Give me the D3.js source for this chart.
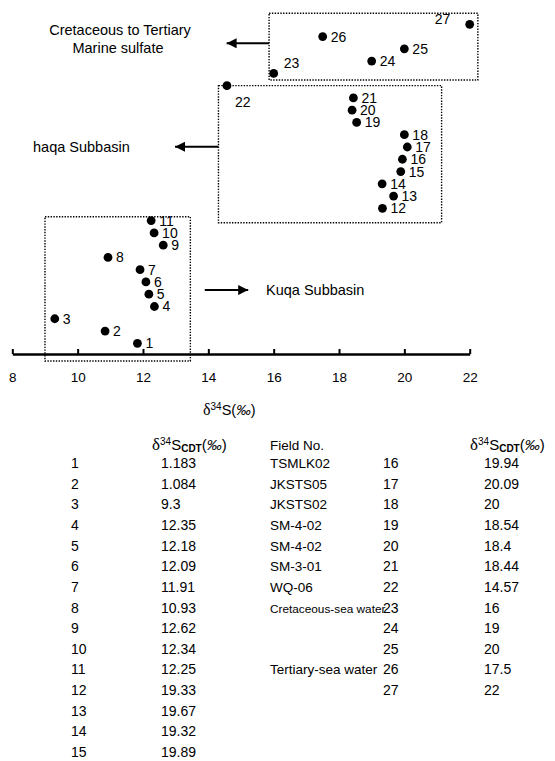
<!DOCTYPE html>
<html lang="en">
<head>
  <meta charset="UTF-8" />
  <title>d34S of sulfates</title>
  <script src="https://d3js.org/d3.v7.min.js"></script>
  <style>
    body { margin: 0; background: #fff; }
    svg { display: block; font-family: "Liberation Sans", Arial, sans-serif; }
    .delta { font-family: "Liberation Serif", "DejaVu Serif", serif; }
  </style>
</head>
<body>
  <div id="chart"></div>

  <script>
    // sample numbers and their d34S (CDT, permil) values
    const sampleNo = [1, 2, 3, 4, 5, 6, 7, 8, 9, 10, 11, 12, 13, 14, 15, 16, 17, 18, 19, 20, 21, 22, 23, 24, 25, 26, 27];
    const d34S = [11.83, 10.84, 9.3, 12.35, 12.18, 12.09, 11.91, 10.93, 12.62, 12.34, 12.25,
                  19.33, 19.67, 19.32, 19.89, 19.94, 20.09, 20, 18.54, 18.4, 18.44, 14.57,
                  16, 19, 20, 17.5, 22];
    // values as printed in the table
    const tableValues = ["1.183", "1.084", "9.3", "12.35", "12.18", "12.09", "11.91", "10.93", "12.62", "12.34", "12.25",
                         "19.33", "19.67", "19.32", "19.89", "19.94", "20.09", "20", "18.54", "18.4", "18.44", "14.57",
                         "16", "19", "20", "17.5", "22"];
    // field numbers for samples 16-27
    const fieldNo = ["TSMLK02", "JKSTS05", "JKSTS02", "SM-4-02", "SM-4-02", "SM-3-01", "WQ-06",
                     "Cretaceous-sea water", "", "", "Tertiary-sea water", ""];
    const xTicks = [8, 10, 12, 14, 16, 18, 20, 22];

    const width = 555, height = 761;

    const x = d3.scaleLinear().domain([8, 22]).range([12.3, 469.7]);
    const y = d3.scaleLinear().domain([1, 27]).range([343.3, 24.3]);

    const svg = d3.select("#chart").append("svg")
      .attr("width", width)
      .attr("height", height);

    // dotted group boxes (x in permil, y in sample index)
    const boxes = [
      { x0: 9, x1: 13.45, i0: -0.44, i1: 11.32 },
      { x0: 14.31, x1: 21.14, i0: 10.83, i1: 22 },
      { x0: 15.86, x1: 22.25, i0: 22.46, i1: 27.9 }
    ];
    svg.selectAll("rect.box")
      .data(boxes)
      .join("rect")
      .attr("class", "box")
      .attr("x", d => x(d.x0))
      .attr("y", d => y(d.i1))
      .attr("width", d => x(d.x1) - x(d.x0))
      .attr("height", d => y(d.i0) - y(d.i1))
      .attr("fill", "none")
      .attr("stroke", "#000")
      .attr("stroke-width", 1.4)
      .attr("stroke-dasharray", "1.4,1.4");

    // x axis: thick line, ticks pointing up
    const axisY = 354;
    const axis = svg.append("g").attr("transform", `translate(0,${axisY})`)
      .call(d3.axisBottom(x).tickValues(xTicks).tickSizeInner(-5).tickSizeOuter(0).tickPadding(0));
    axis.select(".domain").attr("stroke-width", 2.4).attr("stroke", "#000");
    axis.selectAll(".tick line").attr("stroke-width", 2).attr("stroke", "#000");
    axis.selectAll(".tick text")
      .attr("y", 28)
      .attr("dy", 0)
      .attr("fill", "#000")
      .style("font-size", "13.5px")
      .style("font-family", "'Liberation Sans', Arial, sans-serif");

    // axis title
    const title = svg.append("text").attr("x", 203).attr("y", 415)
      .style("font-size", "14.5px");
    title.append("tspan").attr("class", "delta").style("font-size", "16px").text("\u03B4");
    title.append("tspan").attr("dy", -5).style("font-size", "10px").text("34");
    title.append("tspan").attr("dy", 5).text("S(");
    title.append("tspan").style("font-style", "italic").text("\u2030");
    title.append("tspan").text(")");

    // points
    const pts = sampleNo.map((n, i) => ({ n, v: d34S[i] }));
    svg.selectAll("circle.pt")
      .data(pts)
      .join("circle")
      .attr("class", "pt")
      .attr("cx", d => x(d.v))
      .attr("cy", d => y(d.n))
      .attr("r", 4.4)
      .attr("fill", "#000");

    // point labels, a few sit off to one side
    const labelOffset = { 22: [8, 16], 23: [10, -10], 27: [-35, -5] };
    svg.selectAll("text.lab")
      .data(pts)
      .join("text")
      .attr("class", "lab")
      .attr("x", d => x(d.v) + (labelOffset[d.n] ? labelOffset[d.n][0] : 8))
      .attr("y", d => y(d.n) + (labelOffset[d.n] ? labelOffset[d.n][1] : 0) + 5)
      .style("font-size", "14px")
      .text(d => d.n);

    // group annotations with arrows
    const defs = svg.append("defs");
    defs.append("marker")
      .attr("id", "head")
      .attr("viewBox", "0 0 10 10")
      .attr("refX", 10).attr("refY", 5)
      .attr("markerWidth", 15).attr("markerHeight", 10)
      .attr("markerUnits", "userSpaceOnUse")
      .attr("orient", "auto")
      .append("path").attr("d", "M0,0L10,5L0,10z").attr("fill", "#000");

    const arrows = [
      { from: 15.86, to: 14.56, i: 25.45 },
      { from: 14.31, to: 12.98, i: 17.02 },
      { from: 13.89, to: 15.22, i: 5.34 }
    ];
    svg.selectAll("line.arrow")
      .data(arrows)
      .join("line")
      .attr("class", "arrow")
      .attr("x1", d => x(d.from))
      .attr("x2", d => x(d.to))
      .attr("y1", d => y(d.i))
      .attr("y2", d => y(d.i))
      .attr("stroke", "#000")
      .attr("stroke-width", 2)
      .attr("marker-end", "url(#head)");

    const afs = "14.5px";
    svg.append("text").attr("x", 120).attr("y", 35).attr("text-anchor", "middle")
      .style("font-size", afs).text("Cretaceous to Tertiary");
    svg.append("text").attr("x", 118).attr("y", 53).attr("text-anchor", "middle")
      .style("font-size", afs).text("Marine sulfate");
    svg.append("text").attr("x", 33).attr("y", 152)
      .style("font-size", afs).text("haqa Subbasin");
    svg.append("text").attr("x", 266).attr("y", 295)
      .style("font-size", afs).text("Kuqa Subbasin");

    // table
    const rowY = d3.scaleLinear().domain([1, 15]).range([468, 757]);
    const tfs = "13.5px";

    function header(xp) {
      const t = svg.append("text").attr("x", xp).attr("y", 450).style("font-size", "15px");
      t.append("tspan").attr("class", "delta").style("font-size", "17px").text("\u03B4");
      t.append("tspan").attr("dy", -5).style("font-size", "10px").text("34");
      t.append("tspan").attr("dy", 5).text("S");
      t.append("tspan").attr("dy", 2).style("font-size", "10px").style("font-weight", "bold").text("CDT");
      t.append("tspan").attr("dy", -2).text("(");
      t.append("tspan").style("font-style", "italic").text("\u2030");
      t.append("tspan").text(")");
    }
    header(152);
    header(470);
    svg.append("text").attr("x", 270).attr("y", 450).style("font-size", tfs).text("Field No.");

    const rows = sampleNo.map((n, i) => ({ n, s: tableValues[i] }));
    const left = rows.filter(d => d.n <= 15);
    const right = rows.filter(d => d.n > 15);

    svg.selectAll("text.ln").data(left).join("text").attr("class", "ln")
      .attr("x", 71).attr("y", d => rowY(d.n)).style("font-size", "14px").text(d => d.n);
    svg.selectAll("text.lv").data(left).join("text").attr("class", "lv")
      .attr("x", 161).attr("y", d => rowY(d.n)).style("font-size", "14px").text(d => d.s);

    svg.selectAll("text.rf").data(right).join("text").attr("class", "rf")
      .attr("x", 270).attr("y", d => rowY(d.n - 15))
      .style("font-size", (d, i) => fieldNo[i].startsWith("Cretaceous") ? "11.8px" : tfs)
      .text((d, i) => fieldNo[i]);
    svg.selectAll("text.rn").data(right).join("text").attr("class", "rn")
      .attr("x", 383).attr("y", d => rowY(d.n - 15)).style("font-size", "14px").text(d => d.n);
    svg.selectAll("text.rv").data(right).join("text").attr("class", "rv")
      .attr("x", 484).attr("y", d => rowY(d.n - 15)).style("font-size", "14px").text(d => d.s);
  </script>
</body>
</html>
